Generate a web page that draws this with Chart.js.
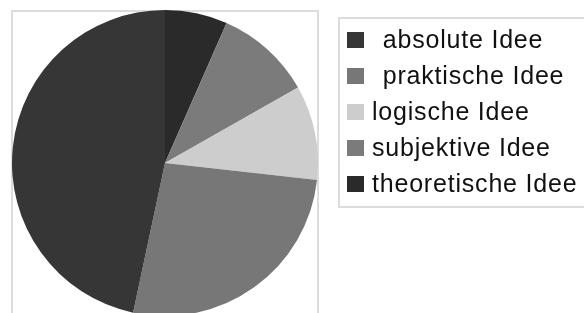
<!DOCTYPE html>
<html>
<head>
<meta charset="utf-8">
<script src="https://cdn.jsdelivr.net/npm/chart.js@4/dist/chart.umd.min.js"></script>
<style>
  html, body { margin: 0; padding: 0; background: #fff; }
  #wrap { position: relative; width: 584px; height: 313px; overflow: hidden; }
  #plotBox { position: absolute; left: 11px; top: 10px; width: 308px; height: 320px;
    border: 2px solid #dcdcdc; box-sizing: border-box; }
  #legendBox { position: absolute; left: 338px; top: 17px; width: 260px; height: 191px;
    border: 2px solid #dcdcdc; box-sizing: border-box; }
  #pieCanvas { position: absolute; left: 0; top: 0; }
  .legend-row { position: absolute; left: 347px; height: 36px; line-height: 36px;
    font-family: "Liberation Sans", Arial, sans-serif; font-size: 25px; letter-spacing: 0.8px;
    color: #111; white-space: pre; }
  .legend-swatch { position: absolute; left: 0; top: 10px; width: 17px; height: 16px; }
  .legend-text { position: absolute; top: -1px; }
</style>
</head>
<body>
<div id="wrap">
  <div id="plotBox"></div>
  <div id="legendBox"></div>
  <canvas id="pieCanvas" width="584" height="320"></canvas>
  <div id="legend"></div>
</div>
<script>
// Legend order (as listed on the right)
const categories = [" absolute Idee", " praktische Idee", "logische Idee", "subjektive Idee", "theoretische Idee"];
// Share of each part in percent
const shares = [46.7, 26.6, 10.0, 10.2, 6.6];
const sliceColors = ["#363636", "#777777", "#cdcdcd", "#7b7b7b", "#2a2a2a"];

// The original pie runs counter-clockwise from 12 o'clock, so feed the slices reversed
const pieLabels = categories.slice().reverse();
const pieData = shares.slice().reverse();
const pieColors = sliceColors.slice().reverse();

const ctx = document.getElementById("pieCanvas").getContext("2d");
const pieChart = new Chart(ctx, {
  type: "pie",
  data: {
    labels: pieLabels,
    datasets: [
      {
        data: pieData,
        backgroundColor: pieColors,
        borderWidth: 0,
      },
    ],
  },
  options: {
    responsive: false,
    animation: false,
    layout: { padding: { left: 12, right: 266, top: 10, bottom: 4 } },
    plugins: {
      legend: { display: false },
      tooltip: { enabled: false },
    },
  },
});

// Build legend from the same arrays
const legendEl = document.getElementById("legend");
const rowTops = [22, 58, 93.5, 129.5, 165.5];
categories.forEach((label, i) => {
  const row = document.createElement("div");
  row.className = "legend-row";
  row.style.top = `${rowTops[i]}px`;
  row.innerHTML = `
    <div class="legend-swatch" style="background:${sliceColors[i]}"></div>
    <span class="legend-text" style="left:${label.startsWith(" ") ? 28 : 25}px">${label}</span>
  `;
  legendEl.appendChild(row);
});
</script>
</body>
</html>
